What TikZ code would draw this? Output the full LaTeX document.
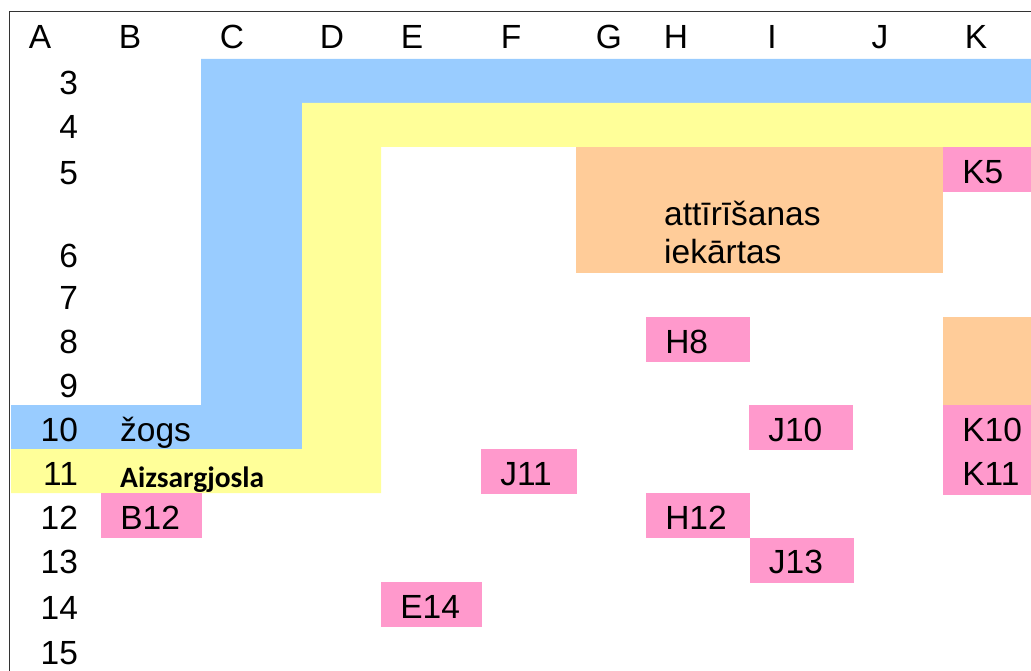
\documentclass[tikz,border=0pt]{standalone}
\usepackage{fontspec}
\setmainfont{Liberation Sans}
\newfontfamily\zonefont{Carlito}
\usetikzlibrary{positioning}
\definecolor{fenceblue}{HTML}{99CCFF}
\definecolor{zoneyellow}{HTML}{FFFF99}
\definecolor{plantorange}{HTML}{FFCC99}
\definecolor{pointpink}{HTML}{FF99CC}
\newcommand{\sheetfont}{\fontsize{33.5}{38}\selectfont}
\tikzstyle{cell}=[rectangle,anchor=north west,inner xsep=19pt,inner ysep=0pt,
  text height=36pt,text depth=8pt,align=left,font=\sheetfont]
\tikzstyle{point}=[cell,fill=pointpink,draw=pointpink,line width=0.6pt]
\tikzstyle{block}=[rectangle,anchor=north west,inner sep=0pt,fill=plantorange]
\tikzstyle{head}=[anchor=base,font=\sheetfont]
\tikzstyle{rowno}=[anchor=base east,font=\sheetfont]

\begin{document}
\begin{tikzpicture}[x=1pt, y=-1pt, node distance=0pt]
  \useasboundingbox (0,0) rectangle (1031,671);

  % fence and protection zone
  \fill[fenceblue] (201,59) -- (1031,59) -- (1031,103) -- (302,103) -- (302,449)
    -- (11,449) -- (11,405) -- (201,405) -- cycle;
  \fill[zoneyellow] (302,103) -- (1031,103) -- (1031,147) -- (381,147) -- (381,493)
    -- (11,493) -- (11,449) -- (302,449) -- cycle;
  \draw[black!80, line width=1.8pt] (9.5,671) -- (9.5,11.5) -- (1031,11.5);

  \foreach \c/\x in {A/40,B/130,C/232,D/332,E/412,F/511,G/609,H/676,I/772,J/880,K/976}
    \node[head] (col\c) at (\x,49) {\c};
  \foreach \r/\y in {3/95,4/139,5/185,6/267,7/309,8/353,9/397,10/441,11/485,12/529,13/573,14/619,15/664}
    \node[rowno] (row\r) at (81.5,\y) {\r};

  \node[block, minimum width=367pt, minimum height=126pt, text width=191pt,
    inner xsep=88pt, text height=78pt, text depth=48pt, align=left,
    font=\sheetfont] (plant) at (576,147) {attīrīšanas\\iekārtas};
  \node[block, minimum width=88pt, minimum height=88pt] (plant2) at (943,317) {};

  \node[cell, text width=150pt] (fence) at (101,405) {žogs};
  \node[cell, text width=200pt, text height=38pt, text depth=6pt,
    font={\fontsize{29.5}{34}\zonefont\bfseries}] (zone) at (101,449) {Aizsargjosla};

  \node[point, text width=50pt] (k5) at (943,147) {K5};
  \node[point, text width=65pt] (h8) at (646,317) {H8};
  \node[point, text width=65pt] (j10) at (749,405) {J10};
  \node[point, text width=50pt] (k10) at (943,405) {K10};
  \node[point, text width=50pt, below=of k10] (k11) {K11};
  \node[point, text width=57pt] (j11) at (481,449) {J11};
  \node[point, text width=62pt] (b12) at (101,493) {B12};
  \node[point, text width=65pt] (h12) at (646,493) {H12};
  \node[point, text width=65pt, below right=of h12] (j13) {J13};
  \node[point, text width=62pt] (e14) at (381,582) {E14};
\end{tikzpicture}
\end{document}
